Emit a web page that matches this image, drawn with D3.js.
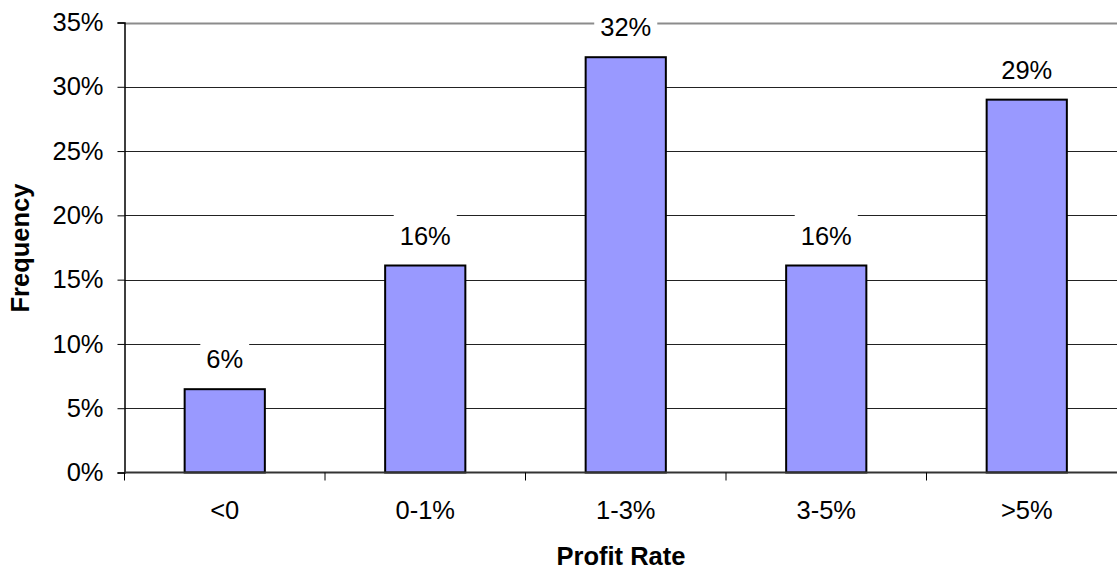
<!DOCTYPE html>
<html>
<head>
<meta charset="utf-8">
<script src="https://cdn.jsdelivr.net/npm/d3@7/dist/d3.min.js"></script>
<style>
  html, body { margin: 0; padding: 0; background: #fff; }
  svg { display: block; font-family: "Liberation Sans", Arial, sans-serif; }
</style>
</head>
<body>
<svg id="chart" width="1117" height="571"></svg>
<script>
// Profit-rate buckets and the share of cases in each
const categories = ["<0", "0-1%", "1-3%", "3-5%", ">5%"];
const frequency = [0.0648, 0.161, 0.323, 0.161, 0.290];
const yTicks = [0, 0.05, 0.10, 0.15, 0.20, 0.25, 0.30, 0.35];
const xTitle = "Profit Rate";
const yTitle = "Frequency";

const svg = d3.select("#chart");
const plotLeft = 124.5, plotRight = 1127, plotTop = 22.5, plotBottom = 472.5;
const fontSize = 25.5;

const x = d3.scaleBand().domain(categories).range([plotLeft, plotRight])
  .paddingInner(0.6).paddingOuter(0.3);
const y = d3.scaleLinear().domain([0, 0.35]).range([plotBottom, plotTop]);
const pct = d3.format(".0%");

// horizontal gridlines
svg.append("g").selectAll("line").data(yTicks.filter(d => d > 0)).join("line")
  .attr("x1", plotLeft).attr("x2", plotRight)
  .attr("y1", d => Math.round(y(d)) + 0.5).attr("y2", d => Math.round(y(d)) + 0.5)
  .attr("stroke", d => d === 0.35 ? "#8c8c8c" : "#222")
  .attr("stroke-width", d => d === 0.35 ? 2 : 1);

// bars
svg.append("g").selectAll("rect").data(frequency).join("rect")
  .attr("x", (d, i) => x(categories[i]))
  .attr("width", x.bandwidth())
  .attr("y", d => y(d))
  .attr("height", d => plotBottom - y(d))
  .attr("fill", "#9999ff")
  .attr("stroke", "#000")
  .attr("stroke-width", 2);

// y axis
const yAxis = svg.append("g").attr("transform", `translate(${plotLeft},0)`)
  .call(d3.axisLeft(y).tickValues(yTicks).tickFormat(pct).tickSize(7).tickPadding(14));
yAxis.select(".domain").attr("stroke", "#000").attr("stroke-width", 1.5);
yAxis.selectAll(".tick line").attr("stroke", "#000");
yAxis.selectAll("text").attr("font-size", fontSize).attr("fill", "#000")
  .attr("font-family", "Liberation Sans, Arial, sans-serif");

// x axis with ticks at the category boundaries
const boundaries = d3.range(categories.length + 1).map(i => plotLeft + i * x.step());
const xg = svg.append("g");
xg.append("line").attr("x1", plotLeft).attr("x2", plotRight)
  .attr("y1", plotBottom).attr("y2", plotBottom)
  .attr("stroke", "#333").attr("stroke-width", 2);
xg.selectAll("line.tk").data(boundaries).join("line").attr("class", "tk")
  .attr("x1", d => d).attr("x2", d => d)
  .attr("y1", plotBottom).attr("y2", plotBottom + 8)
  .attr("stroke", "#000");
xg.selectAll("text").data(categories).join("text")
  .attr("x", d => x(d) + x.bandwidth() / 2)
  .attr("y", 519)
  .attr("text-anchor", "middle")
  .attr("font-size", fontSize)
  .text(d => d);

// value labels on a white backing
const lab = svg.append("g").selectAll("g").data(frequency).join("g")
  .attr("transform", (d, i) => `translate(${x(categories[i]) + x.bandwidth() / 2},${y(d) - 21})`);
lab.append("text")
  .attr("text-anchor", "middle")
  .attr("font-size", fontSize)
  .text(d => pct(d));
lab.each(function () {
  const g = d3.select(this);
  const bb = g.select("text").node().getBBox();
  g.insert("rect", "text")
    .attr("x", bb.x - 6).attr("width", bb.width + 12)
    .attr("y", -34).attr("height", 42)
    .attr("fill", "#fff");
});

// axis titles
svg.append("text")
  .attr("x", 621).attr("y", 565)
  .attr("text-anchor", "middle")
  .attr("font-size", fontSize).attr("font-weight", "bold")
  .text(xTitle);
svg.append("text")
  .attr("transform", "translate(29,248) rotate(-90)")
  .attr("text-anchor", "middle")
  .attr("font-size", fontSize).attr("font-weight", "bold")
  .text(yTitle);
</script>
</body>
</html>
